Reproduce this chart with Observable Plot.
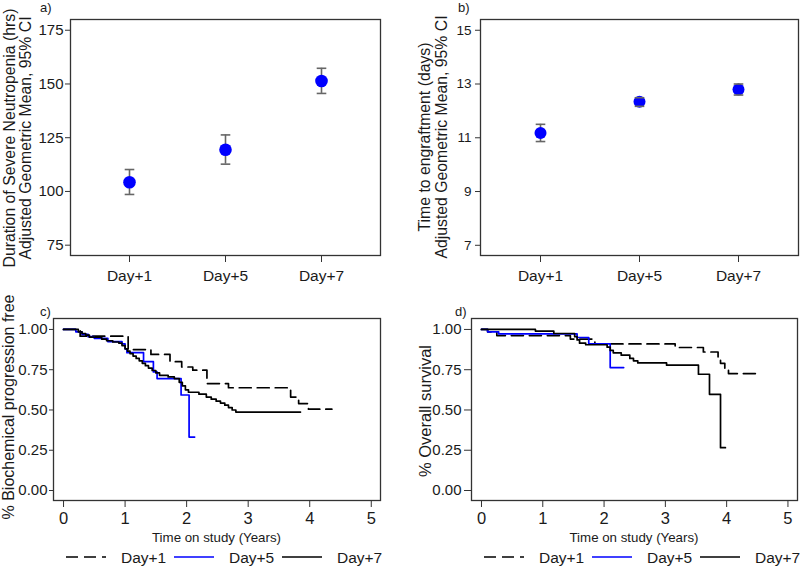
<!DOCTYPE html>
<html><head><meta charset="utf-8">
<script src="https://cdn.jsdelivr.net/npm/d3@7"></script>
<script src="https://cdn.jsdelivr.net/npm/@observablehq/plot@0.6"></script>
<style>
body{margin:0;background:#fff;}
#wrap{position:relative;width:800px;height:575px;overflow:hidden;font-family:"Liberation Sans",Arial,sans-serif;background:#fff;}
#wrap svg{position:absolute;overflow:visible;}
</style></head><body><div id="wrap"></div>
<script>
// ---------- data ----------
const groups = ["Day+1", "Day+5", "Day+7"];
const neutMean = [104.3, 119.4, 151.4];
const neutLo   = [98.6, 112.7, 145.6];
const neutHi   = [110.2, 126.3, 157.3];
const engMean  = [11.18, 12.34, 12.80];
const engLo    = [10.86, 12.17, 12.59];
const engHi    = [11.50, 12.49, 13.00];
const neutTicks = [75, 100, 125, 150, 175];
const engTicks  = [7, 9, 11, 13, 15];
const survTicks = [0, 0.25, 0.5, 0.75, 1];
const yearTicks = [0, 1, 2, 3, 4, 5];

// c) biochemical progression free (Kaplan-Meier steps)
const pfsDay1Time = [0, 0.27, 1.05, 1.42, 1.73, 1.92, 2.10, 2.33, 2.68, 3.69, 3.82, 3.98, 4.36];
const pfsDay1Surv = [1, 0.958, 0.875, 0.845, 0.80, 0.767, 0.747, 0.664, 0.638, 0.58, 0.54, 0.505, 0.505];
const pfsDay5Time = [0, 0.20, 0.30, 0.40, 0.50, 0.72, 0.95, 1.00, 1.03, 1.30, 1.46, 1.52, 1.91, 2.04, 2.13];
const pfsDay5Surv = [1, 0.985, 0.97, 0.955, 0.945, 0.925, 0.91, 0.88, 0.856, 0.80, 0.736, 0.695, 0.593, 0.332, 0.332];
const pfsDay7Time = [0, 0.24, 0.30, 0.36, 0.42, 0.62, 0.70, 0.80, 0.90, 0.95, 1.00, 1.04, 1.08, 1.13, 1.18, 1.23, 1.28, 1.33, 1.38, 1.44, 1.50, 1.56, 1.70, 1.80, 1.88, 1.93, 1.98, 2.03, 2.20, 2.32, 2.40, 2.48, 2.55, 2.62, 2.68, 2.74, 2.80, 3.85];
const pfsDay7Surv = [1, 0.985, 0.975, 0.965, 0.952, 0.94, 0.93, 0.922, 0.915, 0.90, 0.88, 0.865, 0.85, 0.835, 0.82, 0.805, 0.79, 0.775, 0.76, 0.745, 0.73, 0.715, 0.705, 0.695, 0.672, 0.65, 0.625, 0.61, 0.598, 0.58, 0.567, 0.555, 0.543, 0.53, 0.515, 0.50, 0.487, 0.487];

// d) overall survival
const osDay1Time = [0, 0.10, 0.25, 1.45, 1.85, 3.16, 3.62, 3.86, 3.90, 3.97, 4.03, 4.55];
const osDay1Surv = [1, 0.985, 0.962, 0.94, 0.91, 0.888, 0.86, 0.83, 0.79, 0.76, 0.726, 0.726];
const osDay5Time = [0, 0.10, 0.28, 1.56, 1.75, 2.10, 2.32];
const osDay5Surv = [1, 0.985, 0.972, 0.95, 0.91, 0.763, 0.763];
const osDay7Time = [0, 0.88, 1.18, 1.52, 1.56, 1.60, 1.70, 2.05, 2.10, 2.15, 2.28, 2.42, 2.48, 2.55, 3.02, 3.54, 3.72, 3.90, 3.98];
const osDay7Surv = [1, 0.99, 0.975, 0.955, 0.935, 0.915, 0.905, 0.89, 0.87, 0.855, 0.84, 0.82, 0.805, 0.792, 0.778, 0.722, 0.597, 0.266, 0.266];

const legendLabels = ["Day+1", "Day+5", "Day+7"];
const seriesColors = ["#000000", "#0000ff", "#000000"];
const seriesDash = ["12,6", null, null];

// ---------- helpers ----------
const FONT = "Liberation Sans, Arial, sans-serif";
const wrap = document.getElementById("wrap");
function place(svg, left, top) {
  svg.style.left = left + "px";
  svg.style.top = top + "px";
  wrap.appendChild(svg);
  return d3.select(svg);
}
function addText(sel, o) {
  const t = sel.append("text")
    .attr("transform", `translate(${o.x},${o.y})` + (o.rotate ? ` rotate(${o.rotate})` : ""))
    .attr("text-anchor", o.anchor || "middle")
    .attr("font-family", FONT)
    .attr("font-size", o.size)
    .attr("fill", o.fill || "#1a1a1a")
    .text(o.text);
  if (o.textLength) t.attr("textLength", o.textLength).attr("lengthAdjust", "spacingAndGlyphs");
  return t;
}
const zipGroups = (mean, lo, hi) => groups.map((g, i) => ({g, mean: mean[i], lo: lo[i], hi: hi[i]}));
const zipCurve = (T, S) => T.map((t, i) => ({t, s: S[i]}));

// horizontal cap symbol for error bars
const capSymbol = {draw(ctx) { ctx.moveTo(-4.8, 0); ctx.lineTo(4.8, 0); }};

function meanPanel(rows, yDomain, yTicks, opt) {
  return Plot.plot({
    width: 400, height: 290,
    marginLeft: opt.ml, marginRight: opt.mr, marginTop: 19, marginBottom: 35,
    style: {fontFamily: FONT, color: "#1a1a1a", background: "transparent", overflow: "visible"},
    x: {type: "point", domain: groups, padding: 0.6},
    y: {domain: yDomain},
    marks: [
      Plot.frame({stroke: "#333", strokeWidth: 1.3}),
      Plot.axisY(yTicks, {tickSize: 5, tickPadding: opt.yPad, fontSize: opt.yFont, label: null, stroke: "#333"}),
      Plot.axisX({tickSize: 7, tickPadding: 7, fontSize: 15.5, label: null, stroke: "#333"}),
      Plot.ruleX(rows, {x: "g", y1: "lo", y2: "hi", stroke: "#666", strokeWidth: 1.6}),
      Plot.dot(rows, {x: "g", y: "mean", r: opt.r, fill: "#0000ff", stroke: "none"}),
      Plot.dot(rows, {x: "g", y: "lo", symbol: capSymbol, stroke: "#666", strokeWidth: 1.6, fill: "none"}),
      Plot.dot(rows, {x: "g", y: "hi", symbol: capSymbol, stroke: "#666", strokeWidth: 1.6, fill: "none"})
    ]
  });
}

function kmPanel(curves, opt) {
  return Plot.plot({
    width: 400, height: 260,
    marginLeft: opt.ml, marginRight: opt.mr, marginTop: 28, marginBottom: 50,
    style: {fontFamily: FONT, color: "#1a1a1a", background: "transparent", overflow: "visible"},
    x: {domain: opt.xDomain},
    y: {domain: [-0.062, 1.068]},
    marks: [
      Plot.frame({stroke: "#333", strokeWidth: 1.3}),
      Plot.axisY(survTicks, {tickSize: opt.yTick, tickPadding: opt.yPad, fontSize: 15, tickFormat: d3.format(".2f"), label: null, stroke: "#333"}),
      Plot.axisX(yearTicks, {tickSize: 7, tickPadding: 5, fontSize: 16.5, label: null, stroke: "#333"}),
      ...curves.map((c, i) => Plot.line(c, {
        x: "t", y: "s", curve: "step-after",
        stroke: seriesColors[i], strokeWidth: 1.7,
        strokeDasharray: seriesDash[i] || undefined
      }))
    ]
  });
}

// ---------- panel a ----------
const svgA = place(meanPanel(zipGroups(neutMean, neutLo, neutHi), [70.2, 180], neutTicks, {ml: 70, mr: 20, yPad: 2, yFont: 15, r: 6.3}), 0, 0);
addText(svgA, {x: 14.5, y: 138, rotate: -90, size: 15.8, text: "Duration of Severe Neutropenia (hrs)"});
addText(svgA, {x: 30.5, y: 138, rotate: -90, size: 15.8, text: "Adjusted Geometric Mean, 95% CI"});
addText(svgA, {x: 40, y: 12, size: 13, anchor: "start", text: "a)"});

// ---------- panel b ----------
const svgB = place(meanPanel(zipGroups(engMean, engLo, engHi), [6.62, 15.4], engTicks, {ml: 80, mr: 2, yPad: 4, yFont: 13.5, r: 6}), 400, 0);
addText(svgB, {x: 30, y: 137, rotate: -90, size: 15.8, text: "Time to engraftment (days)"});
addText(svgB, {x: 47, y: 137, rotate: -90, size: 15.8, text: "Adjusted Geometric Mean, 95% CI"});
addText(svgB, {x: 58, y: 12, size: 13, anchor: "start", text: "b)"});

// ---------- panel c ----------
const svgC = place(kmPanel([zipCurve(pfsDay1Time, pfsDay1Surv), zipCurve(pfsDay5Time, pfsDay5Surv), zipCurve(pfsDay7Time, pfsDay7Surv)],
  {ml: 53, mr: 20, xDomain: [-0.163, 5.15], yTick: 4, yPad: 2}), 0, 290);
addText(svgC, {x: 14, y: 117, rotate: -90, size: 16, text: "% Biochemical progression free"});
addText(svgC, {x: 216.5, y: 251.5, size: 13, text: "Time on study (Years)", textLength: 129});
addText(svgC, {x: 40, y: 26, size: 13, anchor: "start", text: "c)"});

// ---------- panel d ----------
const svgD = place(kmPanel([zipCurve(osDay1Time, osDay1Surv), zipCurve(osDay5Time, osDay5Surv), zipCurve(osDay7Time, osDay7Surv)],
  {ml: 71, mr: 3, xDomain: [-0.163, 5.156], yTick: 7, yPad: 3}), 400, 290);
addText(svgD, {x: 31, y: 121, rotate: -90, size: 16.5, text: "% Overall survival"});
addText(svgD, {x: 234, y: 251.5, size: 13, text: "Time on study (Years)", textLength: 129});
addText(svgD, {x: 55, y: 26, size: 13, anchor: "start", text: "d)"});

// ---------- legends ----------
const legSvg = d3.create("svg").attr("width", 800).attr("height", 35).node();
const leg = place(legSvg, 0, 540);
const legOffsets = [0, 418];
const itemSpacing = 108;
legOffsets.forEach(off => {
  legendLabels.forEach((lab, i) => {
    const x0 = 66 + off + i * itemSpacing;
    const ln = leg.append("line")
      .attr("x1", x0).attr("x2", x0 + 40).attr("y1", 17).attr("y2", 17)
      .attr("stroke", seriesColors[i]).attr("stroke-width", 1.7);
    if (seriesDash[i]) ln.attr("stroke-dasharray", seriesDash[i]);
    addText(leg, {x: x0 + 55, y: 22.5, size: 15.5, anchor: "start", text: lab});
  });
});
</script></body></html>
